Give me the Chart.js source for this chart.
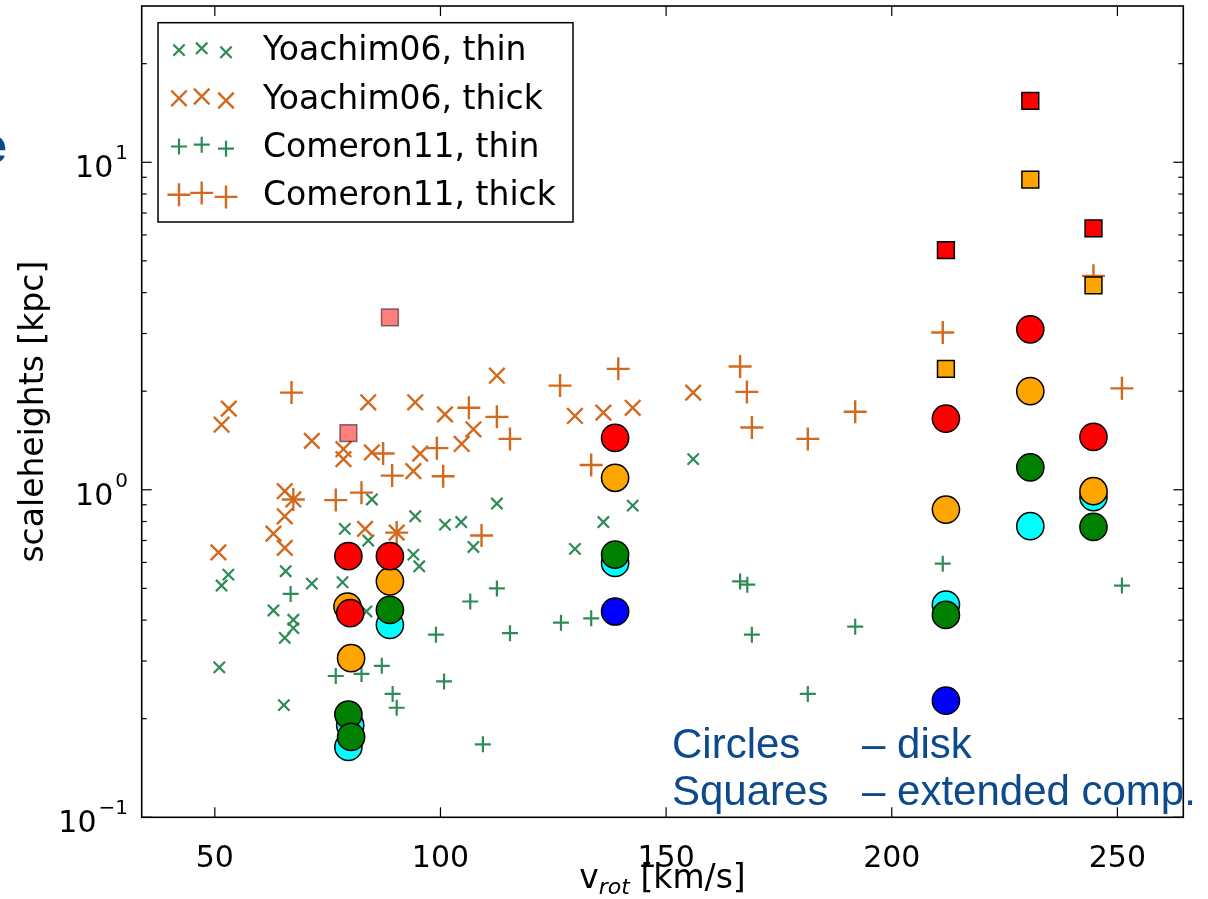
<!DOCTYPE html>
<html><head><meta charset="utf-8">
<script src="https://cdn.jsdelivr.net/npm/chart.js@4.4.1/dist/chart.umd.min.js"></script>
<style>html,body{margin:0;padding:0;background:#fff;overflow:hidden}</style>
</head><body>
<canvas id="c" width="1208" height="899" style="display:block;width:1208px;height:899px"></canvas>
<script>
// ---------------- data ----------------
const yoachimThinV = [51.0, 51.5, 53.0, 63.0, 65.3, 65.5, 65.7, 67.4, 67.4, 71.5, 78.3, 78.8, 83.6, 84.0, 84.8, 94.0, 95.3, 94.4, 101.0, 104.6, 107.3, 112.5, 129.8, 136.1, 142.6, 156.0];
const yoachimThinH = [0.287, 0.51, 0.551, 0.428, 0.22, 0.353, 0.564, 0.401, 0.378, 0.517, 0.522, 0.76, 0.425, 0.70, 0.934, 0.634, 0.584, 0.83, 0.783, 0.797, 0.669, 0.908, 0.66, 0.797, 0.895, 1.24];

const yoachimThickV = [50.8, 51.5, 53.1, 63.0, 65.5, 65.5, 65.5, 67.4, 71.5, 78.5, 78.5, 83.3, 84.0, 84.8, 90.3, 94.0, 94.4, 95.5, 101.0, 104.7, 107.3, 112.5, 129.8, 136.1, 142.6, 156.0];
const yoachimThickH = [0.644, 1.58, 1.77, 0.735, 0.99, 0.83, 0.665, 0.934, 1.41, 1.33, 1.24, 0.76, 1.85, 1.30, 0.74, 1.14, 1.85, 1.29, 1.70, 1.38, 1.53, 2.23, 1.68, 1.72, 1.78, 1.98];

const comeronThinV = [66.8, 76.8, 82.5, 87.0, 89.4, 90.3, 99.0, 100.8, 106.6, 109.4, 112.5, 115.4, 126.7, 133.4, 166.4, 168.0, 169.0, 181.4, 191.9, 211.3, 251.0];
const comeronThinH = [0.481, 0.270, 0.274, 0.290, 0.238, 0.216, 0.361, 0.26, 0.456, 0.167, 0.50, 0.365, 0.393, 0.405, 0.525, 0.513, 0.361, 0.238, 0.382, 0.595, 0.51];

const comeronThickV = [67.0, 67.4, 76.8, 82.5, 87.3, 89.3, 90.3, 99.2, 100.6, 106.3, 109.1, 112.5, 115.4, 126.5, 133.4, 139.4, 166.4, 167.9, 169.0, 181.4, 191.9, 211.3, 244.7, 251.0];
const comeronThickH = [1.98, 0.934, 0.93, 0.98, 1.29, 1.105, 0.74, 1.34, 1.10, 1.78, 0.725, 1.67, 1.43, 2.08, 1.19, 2.34, 2.38, 1.99, 1.55, 1.43, 1.73, 3.02, 4.50, 2.04];

// disk components (circles)
const cyanDiskV   = [80.0, 79.6, 88.8, 138.7, 212.0, 230.7, 244.7];
const cyanDiskH   = [0.191, 0.164, 0.387, 0.598, 0.446, 0.774, 0.95];
const blueDiskV   = [138.7, 212.0];
const blueDiskH   = [0.425, 0.227];
const greenDiskV  = [79.6, 80.2, 88.8, 138.7, 212.0, 230.7, 244.7];
const greenDiskH  = [0.206, 0.176, 0.43, 0.634, 0.415, 1.17, 0.77];
const orangeDiskV = [79.4, 80.2, 88.8, 138.7, 212.0, 230.7, 244.7];
const orangeDiskH = [0.44, 0.306, 0.525, 1.088, 0.87, 2.00, 0.99];
const redDiskV    = [79.6, 80.0, 88.8, 138.7, 212.0, 230.7, 244.7];
const redDiskH    = [0.627, 0.42, 0.627, 1.44, 1.65, 3.09, 1.45];

// extended components (squares)
const redExtV    = [212.0, 230.7, 244.7];
const redExtH    = [5.39, 15.4, 6.28];
const orangeExtV = [212.0, 230.7, 244.7];
const orangeExtH = [2.34, 8.85, 4.21];
const paleExtV   = [79.6, 88.8];
const paleExtH   = [1.49, 3.36];

// axes / labels
const xTicks = [50, 100, 150, 200, 250];
const xTickLabels = ['50', '100', '150', '200', '250'];
const yMajorTicks = [0.1, 1, 10];
const yTickExponents = ['\u22121', '0', '1'];
const yMinorTicks = [0.2,0.3,0.4,0.5,0.6,0.7,0.8,0.9,2,3,4,5,6,7,8,9,20];
const legendLabels = ['Yoachim06, thin', 'Yoachim06, thick', 'Comeron11, thin', 'Comeron11, thick'];
const noteLeft = ['Circles', 'Squares'];
const noteRight = ['\u2013 disk', '\u2013 extended comp.'];

// ---------------- styles ----------------
const GREEN = '#2E8B57', ORANGE = '#D2691E';
const pts = (v, h) => v.map((x, i) => ({x, y: h[i]}));

const markerStyles = [
  {style: 'crossRot', color: GREEN, r: 8, lw: 2.2},
  {style: 'crossRot', color: ORANGE, r: 11, lw: 2.4},
  {style: 'cross', color: GREEN, r: 8, lw: 2.2},
  {style: 'cross', color: ORANGE, r: 11.5, lw: 2.4},
];

function crossDS(label, v, h, m, order) {
  return {label, data: pts(v, h), pointStyle: m.style, pointRadius: m.r,
    borderColor: m.color, backgroundColor: m.color, pointBorderWidth: m.lw, order};
}
function circDS(label, v, h, fill, order) {
  return {label, data: pts(v, h), pointStyle: 'circle', pointRadius: 13.6,
    backgroundColor: fill, borderColor: '#000', pointBorderWidth: 1.5, order};
}
function sqDS(label, v, h, fill, edge, order) {
  return {label, data: pts(v, h), pointStyle: 'rect', pointRadius: 11.9,
    backgroundColor: fill, borderColor: edge, pointBorderWidth: 1.5, order};
}

const datasets = [
  crossDS('Yoachim06, thin', yoachimThinV, yoachimThinH, markerStyles[0], 20),
  crossDS('Yoachim06, thick', yoachimThickV, yoachimThickH, markerStyles[1], 19),
  crossDS('Comeron11, thin', comeronThinV, comeronThinH, markerStyles[2], 18),
  crossDS('Comeron11, thick', comeronThickV, comeronThickH, markerStyles[3], 17),
  circDS('cyan disk', cyanDiskV, cyanDiskH, '#00FFFF', 10),
  circDS('blue disk', blueDiskV, blueDiskH, '#0000FF', 9),
  circDS('green disk', greenDiskV, greenDiskH, '#008000', 8),
  circDS('orange disk', orangeDiskV, orangeDiskH, '#FFA500', 7),
  circDS('red disk', redDiskV, redDiskH, '#FF0000', 6),
  sqDS('pale ext', paleExtV, paleExtH, 'rgba(255,0,0,0.5)', 'rgba(0,0,0,0.5)', 5),
  sqDS('orange ext', orangeExtV, orangeExtH, '#FFA500', '#000', 4),
  sqDS('red ext', redExtV, redExtH, '#FF0000', '#000', 3),
];

const FONT = '"DejaVu Sans", sans-serif';

function drawMarker(ctx, m, x, y) {
  ctx.save();
  ctx.strokeStyle = m.color; ctx.lineWidth = m.lw;
  ctx.beginPath();
  if (m.style === 'cross') {
    ctx.moveTo(x - m.r, y); ctx.lineTo(x + m.r, y);
    ctx.moveTo(x, y - m.r); ctx.lineTo(x, y + m.r);
  } else {
    const d = m.r * Math.SQRT1_2;
    ctx.moveTo(x - d, y - d); ctx.lineTo(x + d, y + d);
    ctx.moveTo(x - d, y + d); ctx.lineTo(x + d, y - d);
  }
  ctx.stroke();
  ctx.restore();
}

const decor = {
  id: 'decor',
  afterDatasetsDraw(chart) {
    const {ctx, chartArea: a, scales: {x, y}} = chart;
    ctx.save();
    const line = (x1, y1, x2, y2) => { ctx.beginPath(); ctx.moveTo(x1, y1); ctx.lineTo(x2, y2); ctx.stroke(); };
    ctx.strokeStyle = '#000';
    ctx.lineWidth = 1.2;
    for (const t of xTicks) {
      const px = x.getPixelForValue(t);
      line(px, a.bottom, px, a.bottom - 10);
      line(px, a.top, px, a.top + 10);
    }
    for (const t of yMajorTicks) {
      const py = y.getPixelForValue(t);
      line(a.left, py, a.left + 10, py);
      line(a.right, py, a.right - 10, py);
    }
    for (const t of yMinorTicks) {
      const py = y.getPixelForValue(t);
      line(a.left, py, a.left + 5, py);
      line(a.right, py, a.right - 5, py);
    }
    ctx.lineWidth = 1.6;
    ctx.strokeRect(a.left, a.top, a.right - a.left, a.bottom - a.top);

    // tick labels
    ctx.fillStyle = '#000';
    ctx.font = '30px ' + FONT;
    ctx.textAlign = 'center'; ctx.textBaseline = 'alphabetic';
    xTicks.forEach((t, i) => ctx.fillText(xTickLabels[i], x.getPixelForValue(t), 867));
    yMajorTicks.forEach((t, i) => {
      const py = y.getPixelForValue(t);
      ctx.font = '20px ' + FONT;
      const ew = ctx.measureText(yTickExponents[i]).width;
      ctx.textAlign = 'left';
      ctx.fillText(yTickExponents[i], 128 - ew, py - 3);
      ctx.font = '30px ' + FONT;
      ctx.textAlign = 'right';
      ctx.fillText('10', 128 - ew - 2, py + 15);
    });

    // axis titles
    ctx.font = '33px ' + FONT;
    ctx.textAlign = 'left';
    const cx = (a.left + a.right) / 2;
    const p1 = 'v', p3 = ' [km/s]';
    const w1 = ctx.measureText(p1).width, w3 = ctx.measureText(p3).width;
    ctx.font = 'italic 22px ' + FONT;
    const p2 = 'rot';
    const w2 = ctx.measureText(p2).width;
    let sx = cx - (w1 + w2 + w3) / 2;
    const base = 888;
    ctx.font = '33px ' + FONT; ctx.fillText(p1, sx, base); sx += w1;
    ctx.font = 'italic 22px ' + FONT; ctx.fillText(p2, sx, base + 6); sx += w2;
    ctx.font = '33px ' + FONT; ctx.fillText(p3, sx, base);

    ctx.save();
    ctx.translate(43.3, (a.top + a.bottom) / 2);
    ctx.rotate(-Math.PI / 2);
    ctx.textAlign = 'center';
    ctx.font = '33px ' + FONT;
    ctx.fillText('scaleheights [kpc]', 0, 0);
    ctx.restore();
    ctx.restore();
  },
  afterDraw(chart) {
    const {ctx} = chart;
    ctx.save();
    // legend
    const L = 158, T = 22.7, R = 573, B = 222;
    ctx.fillStyle = '#fff';
    ctx.fillRect(L, T, R - L, B - T);
    ctx.strokeStyle = '#000'; ctx.lineWidth = 1.5;
    ctx.strokeRect(L, T, R - L, B - T);
    ctx.font = '33px ' + FONT;
    ctx.fillStyle = '#000'; ctx.textAlign = 'left'; ctx.textBaseline = 'alphabetic';
    const mx = [179, 201.7, 226], moff = [1.8, 0, 4];
    legendLabels.forEach((lab, i) => {
      const c = 48.3 + i * 48.2;
      ctx.fillText(lab, 263, c + 12);
      mx.forEach((xx, k) => drawMarker(ctx, markerStyles[i], xx, c + moff[k]));
    });

    // slide annotations
    ctx.fillStyle = '#0D4A8C';
    ctx.font = '42px "Liberation Sans", Arial, sans-serif';
    ctx.fillText(noteLeft[0], 672, 757.5);
    ctx.fillText(noteRight[0], 862, 757.5);
    ctx.fillText(noteLeft[1], 672, 805);
    ctx.fillText(noteRight[1], 862, 805);
    // fragment of slide title at left edge
    ctx.font = 'bold 50px "Liberation Sans", Arial, sans-serif';
    ctx.textAlign = 'right';
    ctx.fillText('e', 7, 163);
    ctx.restore();
  }
};

new Chart(document.getElementById('c'), {
  type: 'scatter',
  data: {datasets},
  options: {
    responsive: false,
    animation: false,
    devicePixelRatio: 1,
    events: [],
    layout: {autoPadding: false, padding: {left: 141.7, top: 6, right: 24.7, bottom: 81.7}},
    plugins: {legend: {display: false}, tooltip: {enabled: false}},
    scales: {
      x: {type: 'linear', min: 33.8, max: 264.6, bounds: 'data', display: false},
      y: {type: 'logarithmic', min: 0.1, max: 30, bounds: 'data', display: false}
    }
  },
  plugins: [decor]
});
</script>
</body></html>
